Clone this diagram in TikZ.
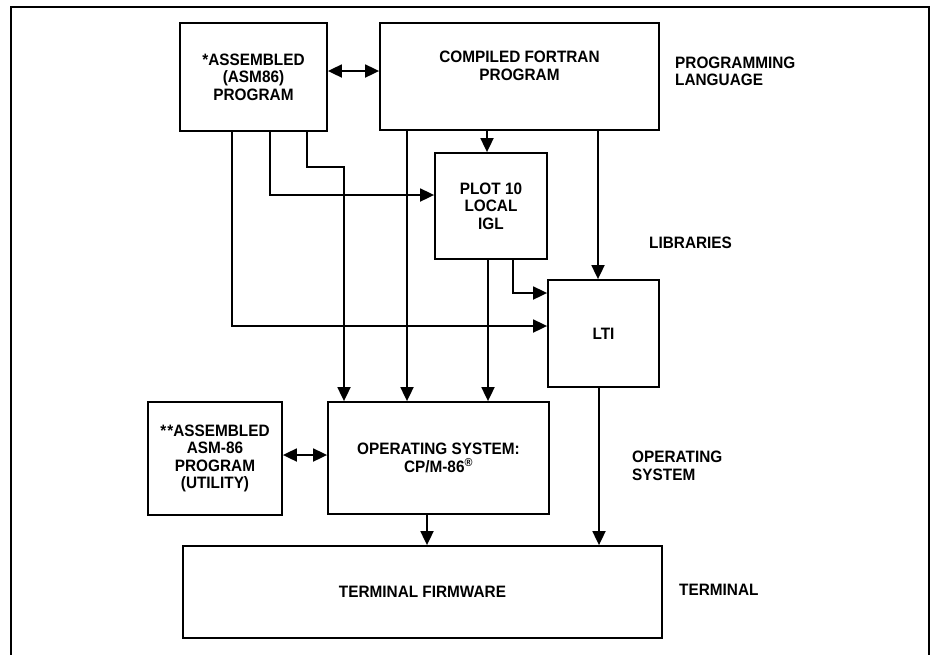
\documentclass[tikz,border=0pt]{standalone}
\usepackage{fontspec}
\setmainfont[FakeStretch=0.93]{Liberation Sans}
\usepackage{tikz}
\usetikzlibrary{shapes.geometric, arrows.meta}
\usetikzlibrary{positioning}

\begin{document}
\begin{tikzpicture}[x=1pt, y=-1pt]

   %Styles of boxes and arrows
   \tikzstyle{layerbox} = [rectangle, draw=black, line width=1.8pt, align=center, inner sep=0pt, font=\bfseries\fontsize{16.5}{17.5}\selectfont]
   \tikzstyle{layername} = [anchor=west, align=left, inner sep=0pt, font=\bfseries\fontsize{16.5}{17.5}\selectfont]
   \tikzstyle{arrow} = [line width=1.8pt, -{Triangle[length=14pt,width=13pt]}]
   \tikzstyle{dblarrow} = [line width=1.8pt, {Triangle[length=14pt,width=13pt]}-{Triangle[length=14pt,width=13pt]}]

   %Page size and frame
   \useasboundingbox (0,0) rectangle (932,654);
   \draw[line width=1.8pt] (11,665) -- (11,7) -- (929,7) -- (929,665);

   %Boxes
   \node[layerbox, minimum width=147pt, minimum height=108pt] (asm) at (253.5,77) {*ASSEMBLED\\(ASM86)\\PROGRAM};
   \node[layerbox, minimum width=279pt, minimum height=107pt, text depth=22pt] (fortran) at (519.5,76.5) {COMPILED FORTRAN\\PROGRAM};
   \node[layerbox, minimum width=112pt, minimum height=106pt] (plot) at (491,206) {PLOT 10\\LOCAL\\IGL};
   \node[layerbox, minimum width=111pt, minimum height=107pt] (lti) at (603.5,333.5) {LTI};
   \node[layerbox, minimum width=221pt, minimum height=112pt] (os) at (438.5,458) {OPERATING SYSTEM:\\CP/M-86\textsuperscript{\textregistered}};
   \node[layerbox, minimum width=134pt, minimum height=113pt] (util) at (215,458.5) {*{\kern1pt}*ASSEMBLED\\ASM-86\\PROGRAM\\(UTILITY)};
   \node[layerbox, minimum width=479pt, minimum height=92pt] (term) at (422.5,592) {TERMINAL FIRMWARE};

   %Layer names
   \node[layername] (lang) at (675,71.5) {PROGRAMMING\\LANGUAGE};
   \node[layername] (lib) at (649,243) {LIBRARIES};
   \node[layername] (ossys) at (632,466) {OPERATING\\SYSTEM};
   \node[layername] (terml) at (679,590) {TERMINAL};

   %Arrows
   \draw[dblarrow] (asm.east |- 0,71) -- (fortran.west |- 0,71);
   \draw[dblarrow] (util.east |- 0,455) -- (os.west |- 0,455);
   \draw[arrow] (fortran.south -| 487,0) -- (plot.north -| 487,0);
   \draw[arrow] (fortran.south -| 598,0) -- (lti.north -| 598,0);
   \draw[arrow] (fortran.south -| 407,0) -- (os.north -| 407,0);
   \draw[arrow] (asm.south -| 232,0) |- (lti.west |- 0,326);
   \draw[arrow] (asm.south -| 270,0) |- (plot.west |- 0,195);
   \draw[arrow] (asm.south -| 307,0) -- (307,167) -| (os.north -| 344,0);
   \draw[arrow] (plot.south -| 488,0) -- (os.north -| 488,0);
   \draw[arrow] (plot.south -| 513,0) |- (lti.west |- 0,293);
   \draw[arrow] (lti.south -| 599,0) -- (term.north -| 599,0);
   \draw[arrow] (os.south -| 427,0) -- (term.north -| 427,0);

\end{tikzpicture}
\end{document}
